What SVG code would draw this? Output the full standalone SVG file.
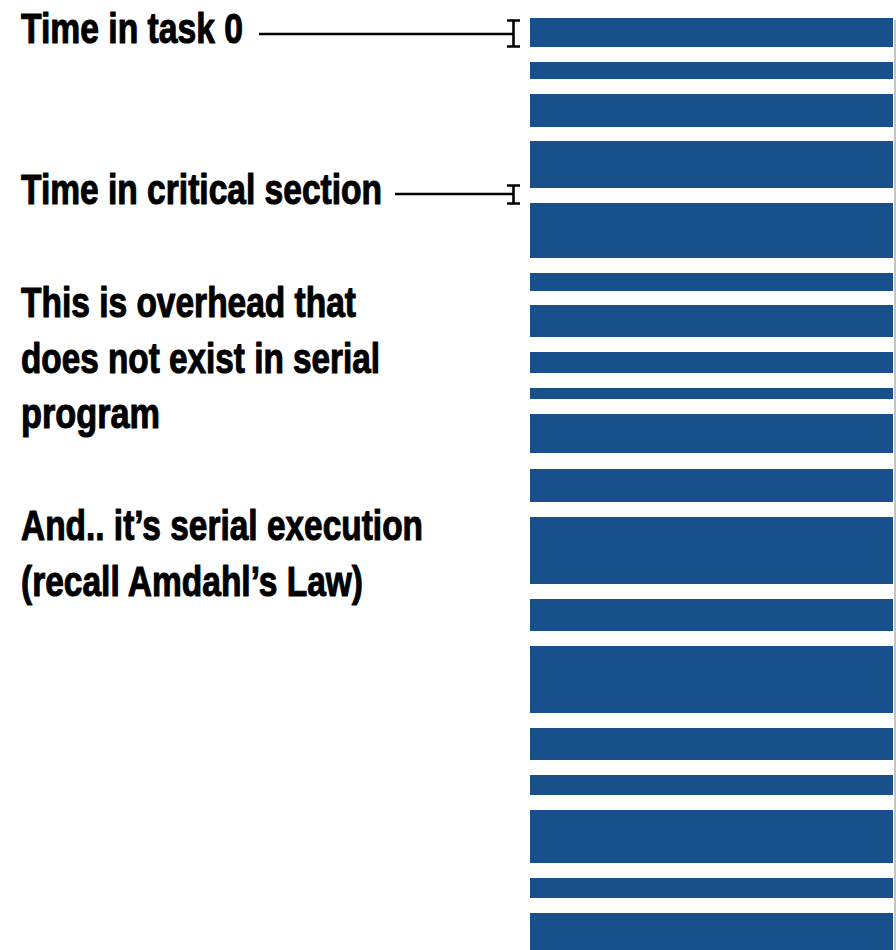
<svg xmlns="http://www.w3.org/2000/svg" width="896" height="950" viewBox="0 0 896 950">
<style>
.lbl{font-family:"Liberation Sans Narrow","Liberation Sans",Arial,sans-serif;font-weight:bold;font-size:43px;fill:#000;stroke:#000;stroke-width:1.1px;stroke-linejoin:round;}
.bar{fill:#17508A;}
.lead{stroke:#000;stroke-width:2.4;fill:none;}
.ibeam{stroke:#000;stroke-width:2.6;fill:none;}
</style>
<rect x="0" y="0" width="896" height="950" fill="#fff"/>
<g id="bars">
<rect class="bar" x="530" y="18" width="363" height="29"/>
<rect class="bar" x="530" y="62" width="363" height="17"/>
<rect class="bar" x="530" y="94" width="363" height="33"/>
<rect class="bar" x="530" y="141" width="363" height="47"/>
<rect class="bar" x="530" y="203" width="363" height="55"/>
<rect class="bar" x="530" y="273" width="363" height="18"/>
<rect class="bar" x="530" y="305" width="363" height="32"/>
<rect class="bar" x="530" y="352" width="363" height="21"/>
<rect class="bar" x="530" y="388" width="363" height="11"/>
<rect class="bar" x="530" y="414" width="363" height="39"/>
<rect class="bar" x="530" y="469" width="363" height="33"/>
<rect class="bar" x="530" y="517" width="363" height="67"/>
<rect class="bar" x="530" y="599" width="363" height="32"/>
<rect class="bar" x="530" y="646" width="363" height="67"/>
<rect class="bar" x="530" y="728" width="363" height="32"/>
<rect class="bar" x="530" y="775" width="363" height="20"/>
<rect class="bar" x="530" y="810" width="363" height="53"/>
<rect class="bar" x="530" y="878" width="363" height="20"/>
<rect class="bar" x="530" y="913" width="363" height="37"/>
<line x1="895" y1="20" x2="895" y2="950" stroke="#c4c4c4" stroke-width="2"/>
</g>
<g id="label-task0"><text class="lbl" x="21" y="43" textLength="222" lengthAdjust="spacingAndGlyphs">Time in task 0</text></g>
<g id="label-critical"><text class="lbl" x="21" y="204" textLength="361" lengthAdjust="spacingAndGlyphs">Time in critical section</text></g>
<g id="note-overhead">
<text class="lbl" x="21" y="317" textLength="335" lengthAdjust="spacingAndGlyphs">This is overhead that</text>
<text class="lbl" x="21" y="373" textLength="359" lengthAdjust="spacingAndGlyphs">does not exist in serial</text>
<text class="lbl" x="21" y="428" textLength="139" lengthAdjust="spacingAndGlyphs">program</text>
</g>
<g id="note-serial">
<text class="lbl" x="21" y="540" textLength="402" lengthAdjust="spacingAndGlyphs">And.. it’s serial execution</text>
<text class="lbl" x="21" y="596" textLength="342" lengthAdjust="spacingAndGlyphs">(recall Amdahl’s Law)</text>
</g>
<g id="connectors">
<path class="lead" d="M259 34H513"/>
<path class="ibeam" d="M513.5 20V47M507 20.5H520M507 46.5H520"/>
<path class="lead" d="M395 194H513"/>
<path class="ibeam" d="M513.5 185V204M507 185.5H520M507 203.5H520"/>
</g>
</svg>
